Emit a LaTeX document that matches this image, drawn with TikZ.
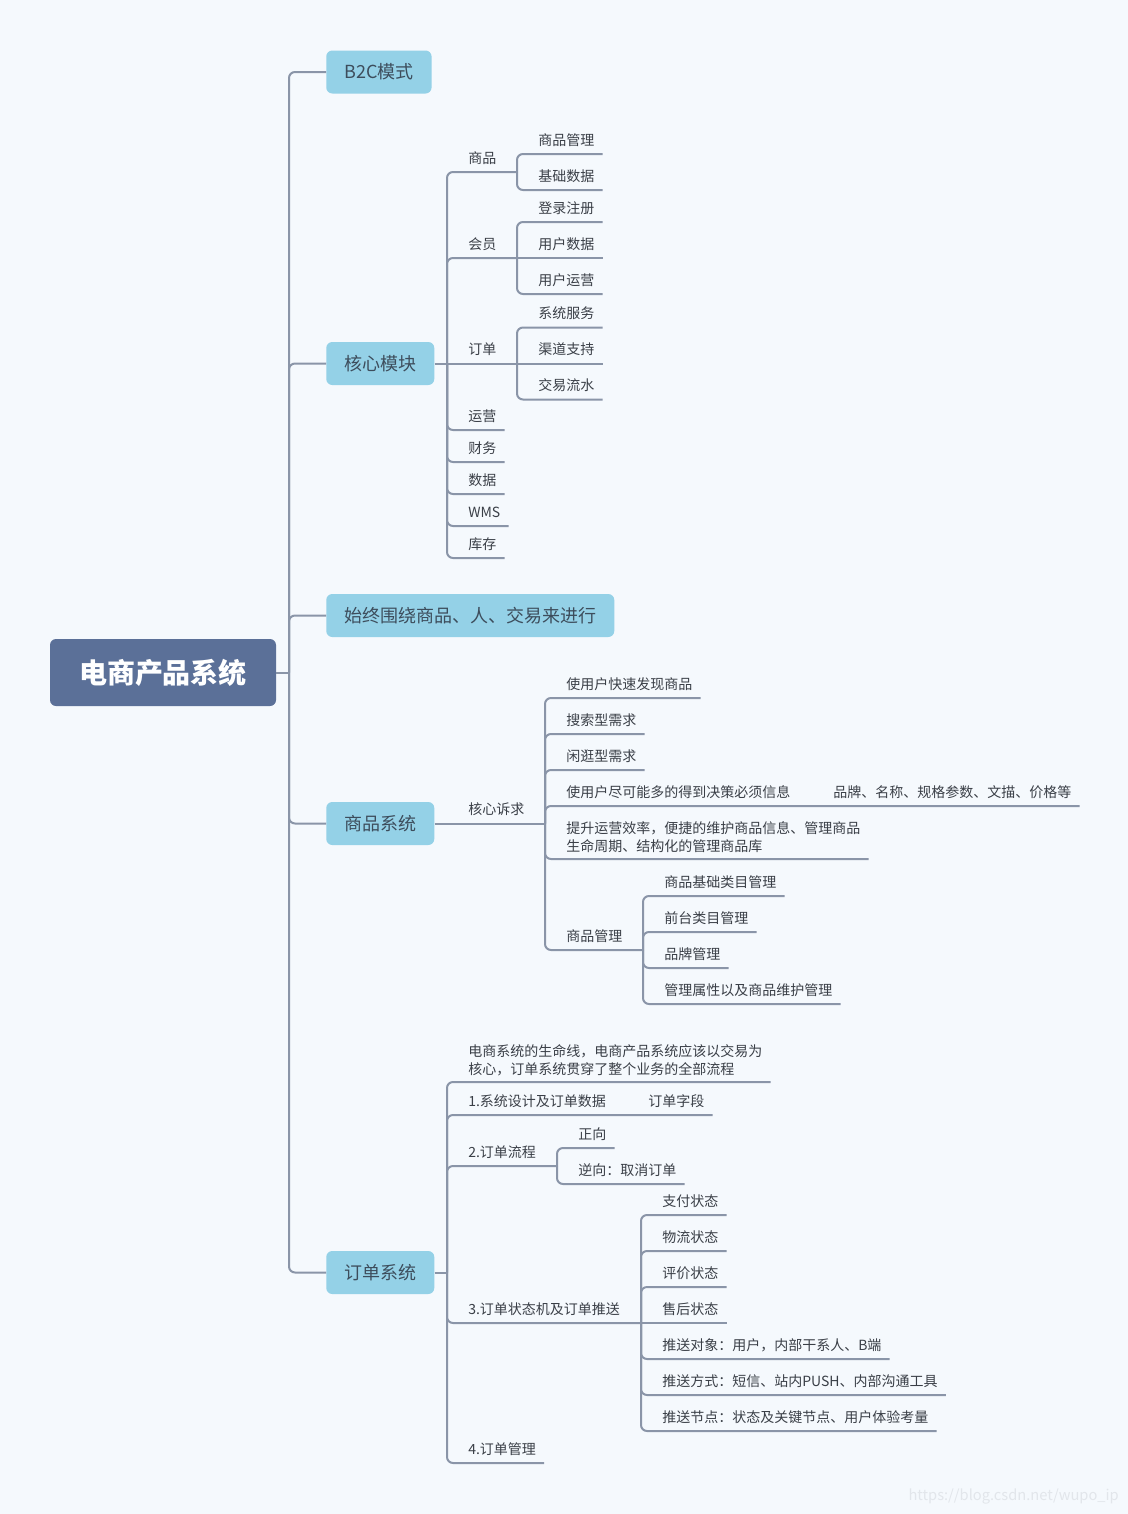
\documentclass[tikz,border=0pt]{standalone}
\usepackage{fontspec}
\setmainfont{Noto Sans CJK SC}
\usetikzlibrary{calc}
\definecolor{bgc}{HTML}{F5F9FD}
\definecolor{rootc}{HTML}{5B7098}
\definecolor{boxc}{HTML}{94D1E7}
\definecolor{linec}{HTML}{8A95A8}
\definecolor{txtc}{HTML}{3A3F47}
\definecolor{boxtxt}{HTML}{3D4D5C}
\definecolor{wmc}{HTML}{E2E6EB}
\tikzset{
  rootbox/.style={rectangle, rounded corners=4.5pt, fill=rootc, text=white,
    font=\fontsize{21}{25}\selectfont\bfseries, minimum width=169.5pt, minimum height=50.25pt, inner sep=0pt},
  topicbox/.style={rectangle, rounded corners=4.5pt, fill=boxc, text=boxtxt,
    font=\fontsize{13.5}{16}\selectfont, minimum height=32.25pt, inner xsep=13.5pt, inner ysep=0pt, anchor=west},
  leaf/.style={inner sep=0pt, anchor=west, text=txtc, font=\fontsize{10.5}{13.5}\selectfont,
    text height=9.2pt, text depth=1.3pt},
  leaftwo/.style={inner sep=0pt, anchor=west, text=txtc, font=\fontsize{10.5}{13.5}\selectfont, align=left},
  conn/.style={draw=linec, line width=1.5pt, rounded corners=4.5pt},
}
\begin{document}
\begin{tikzpicture}[x=0.75pt,y=-0.75pt]
\fill[bgc] (0,0) rectangle (1128,1514);
\useasboundingbox (0,0) rectangle (1128,1514);

% root and main topics
\node[rootbox] (root) at (163,672.5) {电商产品系统};
\node[topicbox] (b2c) at (326,72) {B2C模式};
\node[topicbox] (core) at (326,363.5) {核心模块};
\node[topicbox] (always) at (326,615.5) {始终围绕商品、人、交易来进行};
\node[topicbox] (goods) at (326,823.5) {商品系统};
\node[topicbox] (order) at (326,1272.5) {订单系统};

\coordinate (J0) at (289,672.5);
\draw[conn] (root.east) -- (J0);
\foreach \t in {b2c,core,always,goods,order} \draw[conn] (J0) |- (\t.west);

% core module subtree
\coordinate (J1) at (447,363.5);
\draw[conn] (core.east) -- (J1);
\node[leaf] (c1) at (468,158) {商品};
\node[leaf] (c2) at (468,244) {会员};
\node[leaf] (c3) at (468,349.5) {订单};
\node[leaf] (c4) at (468,416) {运营};
\node[leaf] (c5) at (468,448) {财务};
\node[leaf] (c6) at (468,480) {数据};
\node[leaf] (c7) at (468,512) {WMS};
\node[leaf] (c8) at (468,544) {库存};
\coordinate (K1) at (517,172);
\coordinate (K2) at (517,258);
\coordinate (K3) at (517,363.5);
\draw[conn] (J1) |- (K1);
\draw[conn] (J1) |- (K2);
\draw[conn] (J1) -- (K3);
\foreach \n in {c4,c5,c6,c7,c8} \draw[conn] (J1) |- ($(\n.east)+(8,14)$);

\node[leaf] (c11) at (538,140) {商品管理};
\node[leaf] (c12) at (538,176) {基础数据};
\node[leaf] (c21) at (538,208) {登录注册};
\node[leaf] (c22) at (538,244) {用户数据};
\node[leaf] (c23) at (538,280) {用户运营};
\node[leaf] (c31) at (538,313.5) {系统服务};
\node[leaf] (c32) at (538,349.5) {渠道支持};
\node[leaf] (c33) at (538,385.5) {交易流水};
\foreach \n in {c11,c12} \draw[conn] (K1) |- ($(\n.east)+(8,14)$);
\foreach \n in {c21,c23} \draw[conn] (K2) |- ($(\n.east)+(8,14)$);
\draw[conn] (K2) -- ($(c22.east)+(8,14)$);
\foreach \n in {c31,c33} \draw[conn] (K3) |- ($(\n.east)+(8,14)$);
\draw[conn] (K3) -- ($(c32.east)+(8,14)$);

% goods system subtree
\coordinate (K4) at (545,823.5);
\node[leaf] (g0) at (468,809.5) {核心诉求};
\draw[conn] (goods.east) -- (K4);
\node[leaf] (g1) at (566,684) {使用户快速发现商品};
\node[leaf] (g2) at (566,720) {搜索型需求};
\node[leaf] (g3) at (566,756) {闲逛型需求};
\node[leaf] (g4) at (566,792) {使用户尽可能多的得到决策必须信息};
\node[leaf] (g41) at (833,792) {品牌、名称、规格参数、文描、价格等};
\node[leaftwo] (g5) at (566,837) {提升运营效率，便捷的维护商品信息、管理商品\\生命周期、结构化的管理商品库};
\node[leaf] (g6) at (566,936) {商品管理};
\coordinate (K5) at (643,950);
\foreach \n in {g1,g2,g3,g41} \draw[conn] (K4) |- ($(\n.east)+(8,14)$);
\draw[conn] (K4) |- ($(g5.east)+(8,22)$);
\draw[conn] (K4) |- (K5);
\node[leaf] (g61) at (664,882) {商品基础类目管理};
\node[leaf] (g62) at (664,918) {前台类目管理};
\node[leaf] (g63) at (664,954) {品牌管理};
\node[leaf] (g64) at (664,990) {管理属性以及商品维护管理};
\foreach \n in {g61,g62,g63,g64} \draw[conn] (K5) |- ($(\n.east)+(8,14)$);

% order system subtree
\coordinate (J3) at (447,1272.5);
\draw[conn] (order.east) -- (J3);
\node[leaftwo] (o1) at (468,1060) {电商系统的生命线，电商产品系统应该以交易为\\核心，订单系统贯穿了整个业务的全部流程};
\draw[conn] (J3) |- ($(o1.east)+(8,22)$);
\node[leaf] (o2) at (468,1101) {1.系统设计及订单数据};
\node[leaf] (o21) at (648,1101) {订单字段};
\draw[conn] (J3) |- ($(o21.east)+(8,14)$);
\node[leaf] (o3) at (468,1152) {2.订单流程};
\coordinate (K6) at (557,1166);
\draw[conn] (J3) |- (K6);
\node[leaf] (o31) at (578,1134) {正向};
\node[leaf] (o32) at (578,1170) {逆向：取消订单};
\foreach \n in {o31,o32} \draw[conn] (K6) |- ($(\n.east)+(8,14)$);
\node[leaf] (o4) at (468,1309) {3.订单状态机及订单推送};
\coordinate (K7) at (641,1323);
\draw[conn] (J3) |- (K7);
\node[leaf] (o41) at (662,1201) {支付状态};
\node[leaf] (o42) at (662,1237) {物流状态};
\node[leaf] (o43) at (662,1273) {评价状态};
\node[leaf] (o44) at (662,1309) {售后状态};
\node[leaf] (o45) at (662,1345) {推送对象：用户，内部干系人、B端};
\node[leaf] (o46) at (662,1381) {推送方式：短信、站内PUSH、内部沟通工具};
\node[leaf] (o47) at (662,1417) {推送节点：状态及关键节点、用户体验考量};
\foreach \n in {o41,o42,o43,o45,o46,o47} \draw[conn] (K7) |- ($(\n.east)+(8,14)$);
\draw[conn] (K7) -- ($(o44.east)+(8,14)$);
\node[leaf] (o5) at (468,1449) {4.订单管理};
\draw[conn] (J3) |- ($(o5.east)+(8,14)$);

% watermark
\node[anchor=east, inner sep=0pt, text=wmc, font=\fontsize{11}{13}\selectfont] (wm) at (1119,1496) {https://blog.csdn.net/wupo\_ip};
\end{tikzpicture}
\end{document}
